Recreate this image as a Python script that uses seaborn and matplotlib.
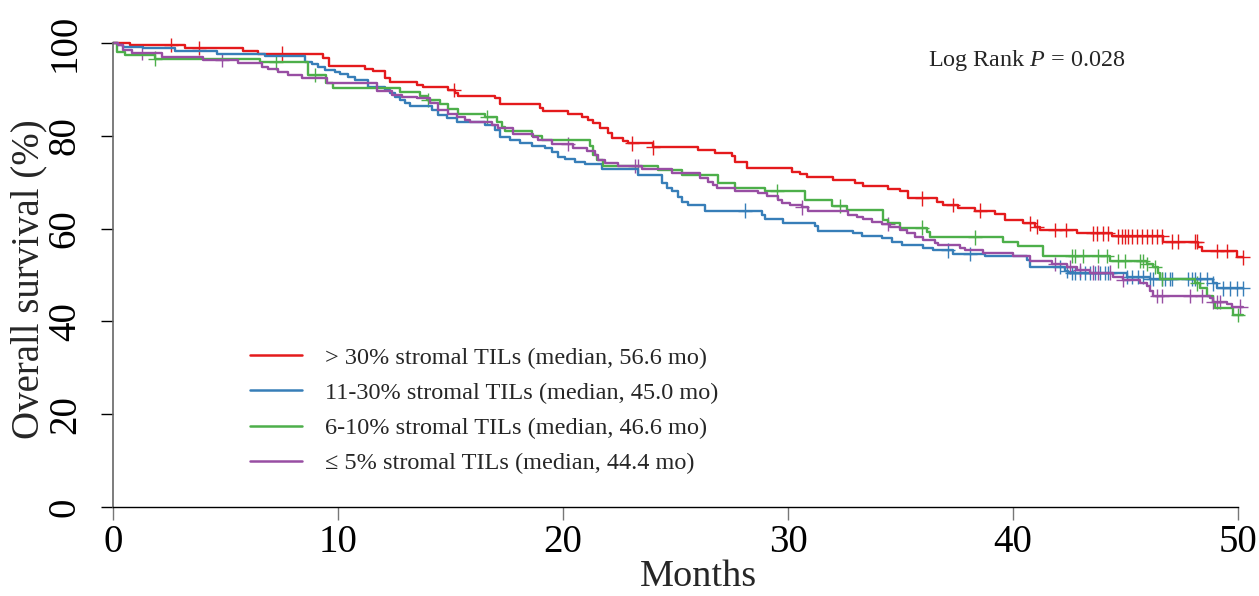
import numpy as np
import pandas as pd
import matplotlib
matplotlib.use("Agg")
import matplotlib.pyplot as plt
import seaborn as sns
from matplotlib.lines import Line2D

# ---------------- data ----------------
groups = ["> 30% stromal TILs (median, 56.6 mo)",
          "11-30% stromal TILs (median, 45.0 mo)",
          "6-10% stromal TILs (median, 46.6 mo)",
          "\u2264 5% stromal TILs (median, 44.4 mo)"]
colors = ["#E41A1C", "#377EB8", "#4DAF4A", "#984EA3"]
end_time = 50.2

red_t = [0.76, 3.2, 5.78, 6.44, 9.33, 9.6, 11.2, 11.56, 12.09, 12.31, 13.51, 13.78,
         14.89, 15.2, 15.33, 16.98, 17.2, 18.98, 19.11, 20.22, 20.84, 21.11, 21.33,
         21.64, 22.0, 22.18, 22.67, 22.89, 24.0, 26.0, 26.76, 27.51, 27.64, 28.18,
         30.18, 30.53, 30.84, 32.0, 32.98, 33.33, 34.44, 34.98, 35.33, 36.62, 36.89,
         37.56, 38.31, 39.2, 39.64, 40.44, 40.98, 41.2, 42.84, 44.4, 46.67, 48.22,
         48.4, 49.96]
red_s = [99.6, 98.9, 98.3, 97.7, 96.7, 95.1, 94.5, 93.9, 92.4, 91.6, 90.9, 90.6,
         89.9, 89.2, 88.6, 88.1, 86.8, 85.9, 85.3, 84.8, 84.1, 83.4, 82.7,
         81.6, 80.7, 79.5, 78.9, 78.4, 77.5, 76.9, 76.2, 75.6, 74.4, 73.0,
         72.3, 71.8, 71.1, 70.5, 69.8, 69.2, 68.5, 68.0, 66.5, 65.8, 65.1,
         64.4, 63.9, 63.1, 61.9, 61.1, 60.4, 59.7, 59.0, 58.3, 57.2, 56.1,
         55.2, 53.8]
red_c = [2.58, 3.82, 7.51, 15.16, 23.07, 24.0, 35.96, 37.33, 38.53, 40.76, 41.07,
         41.87, 42.36, 43.56, 43.73, 44.0, 44.22, 44.67, 44.84, 44.98, 45.11, 45.29,
         45.51, 45.73, 45.96, 46.18, 46.4, 46.62, 47.07, 47.33, 48.09, 48.18, 49.07,
         49.51, 50.2]

blue_t = [0.22, 0.44, 1.33, 2.76, 4.62, 6.76, 8.53, 8.84, 9.11, 9.42, 9.87, 10.09,
          10.44, 10.76, 11.33, 12.09, 12.31, 12.53, 12.76, 12.98, 13.2, 14.18, 14.44,
          14.84, 15.29, 16.53, 16.98, 17.2, 17.64, 18.09, 18.62, 19.2, 19.51, 19.78,
          20.09, 20.53, 20.98, 21.73, 23.33, 24.4, 24.62, 24.84, 25.11, 25.29, 25.56,
          26.31, 28.84, 28.98, 29.78, 31.2, 31.33, 32.89, 33.29, 34.18, 34.62, 35.07,
          36.0, 36.44, 37.33, 38.76, 40.62, 40.76, 42.31, 42.44, 45.07, 46.09, 48.89,
          49.07]
blue_s = [99.6, 99.2, 98.9, 98.3, 97.7, 97.3, 96.0, 95.4, 94.9, 94.2, 93.8, 93.3,
          92.7, 92.0, 90.6, 89.9, 89.2, 88.4, 87.7, 87.0, 86.4, 85.6, 84.5,
          83.8, 83.0, 82.3, 81.3, 79.8, 79.1, 78.4, 77.8, 77.3, 76.6, 75.5,
          74.9, 74.4, 73.9, 72.8, 71.6, 69.8, 68.7, 68.0, 66.9, 65.8, 65.1,
          63.9, 62.9, 62.0, 61.3, 60.6, 59.5, 59.0, 58.4, 57.9, 57.2, 56.5,
          55.8, 55.3, 54.5, 54.1, 53.2, 51.7, 50.9, 50.4, 49.6, 49.1, 48.2,
          47.1]
blue_c = [28.09, 37.11, 38.09, 42.09, 42.4, 42.62, 42.76, 42.98, 43.2, 43.42, 43.64,
          43.87, 44.09, 44.22, 45.07, 45.29, 45.56, 45.78, 46.09, 46.22, 46.62, 46.76,
          46.98, 47.07, 47.78, 47.96, 48.09, 48.31, 48.62, 48.89, 49.33, 49.64, 49.96,
          50.2]

green_t = [0.18, 0.53, 1.87, 6.53, 8.67, 9.47, 9.78, 12.76, 13.64, 13.96, 14.53, 14.89,
           15.33, 16.53, 17.07, 17.29, 17.42, 18.62, 19.07, 21.2, 21.33, 21.51, 21.78,
           24.22, 25.29, 26.89, 27.64, 28.98, 30.76, 31.96, 32.62, 34.22, 34.44, 34.98,
           36.18, 36.31, 39.56, 40.22, 41.33, 44.31, 45.96, 46.22, 46.44, 46.53, 48.09,
           48.31, 48.62, 48.89, 48.98, 49.78]
green_s = [98.1, 97.4, 96.6, 95.8, 93.1, 91.4, 90.2, 89.4, 88.6, 87.7, 86.8, 85.7,
           84.8, 84.0, 83.0, 82.0, 81.0, 80.0, 79.1, 77.7, 75.9, 74.8, 73.5,
           72.6, 71.6, 69.8, 68.7, 68.0, 66.2, 64.9, 64.0, 61.9, 61.1, 60.2,
           59.3, 58.1, 57.2, 56.2, 54.1, 53.0, 52.4, 51.7, 50.4, 49.1, 48.2,
           47.1, 45.5, 44.2, 42.8, 41.4]
green_c = [1.87, 7.24, 8.98, 14.0, 16.62, 29.51, 32.31, 35.96, 38.31, 42.62, 42.76,
           43.11, 43.78, 44.18, 44.67, 44.98, 45.64, 45.78, 45.96, 46.31, 46.62, 48.18,
           50.0]

purple_t = [0.22, 0.44, 0.84, 2.18, 4.0, 5.56, 6.62, 6.89, 7.33, 7.78, 8.4, 9.51,
            11.73, 12.4, 12.84, 13.51, 14.09, 14.44, 14.89, 15.29, 15.64, 15.87, 16.84,
            17.11, 17.78, 18.67, 18.89, 19.51, 20.44, 21.07, 21.42, 21.56, 21.87, 22.44,
            23.51, 24.84, 26.09, 26.44, 26.67, 26.84, 27.64, 28.67, 29.07, 29.56, 29.73,
            30.09, 30.62, 30.89, 32.67, 33.07, 33.33, 33.73, 34.18, 34.53, 34.98, 35.29,
            35.64, 36.0, 36.53, 36.67, 37.64, 37.87, 38.67, 40.0, 40.76, 41.73, 42.4,
            42.84, 43.42, 44.44, 44.89, 45.64, 45.96, 46.09, 46.22, 48.76, 48.89, 49.51,
            49.73]
purple_s = [99.6, 98.5, 97.8, 96.9, 96.3, 95.6, 94.9, 94.3, 93.8, 93.2, 92.5, 91.3,
            89.7, 88.9, 88.4, 88.1, 87.0, 85.6, 84.8, 84.1, 83.4, 83.0, 82.3,
            81.6, 80.4, 79.8, 79.1, 78.2, 77.3, 76.8, 75.9, 74.8, 74.1, 73.5,
            72.8, 71.9, 70.8, 70.1, 69.3, 68.7, 68.2, 67.6, 67.0, 66.2, 65.6,
            65.1, 64.6, 63.9, 62.9, 62.4, 62.0, 61.5, 61.0, 60.4, 59.7, 59.0,
            58.1, 57.5, 57.0, 56.5, 55.8, 55.3, 54.7, 54.0, 53.1, 52.4, 51.7,
            51.1, 50.5, 49.5, 48.9, 48.3, 47.6, 46.6, 45.5, 45.0, 44.2, 43.8,
            43.2]
purple_c = [1.29, 4.84, 20.22, 23.2, 23.33, 30.62, 34.44, 41.87, 42.53, 42.98, 43.56,
            43.78, 44.31, 44.89, 46.4, 46.62, 47.87, 48.4, 48.89, 49.07, 49.2, 50.1]

x_ticks = [0, 10, 20, 30, 40, 50]
y_ticks = [0, 20, 40, 60, 80, 100]
annotation = r"Log Rank $P$ = 0.028"

# ---------------- build tidy frames ----------------
series = [(red_t, red_s, red_c), (blue_t, blue_s, blue_c),
          (green_t, green_s, green_c), (purple_t, purple_s, purple_c)]
line_rows, cens_rows = [], []
for g, (t, s, c) in zip(groups, series):
    tt = np.array([0.0] + list(t) + [end_time])
    ss = np.array([100.0] + list(s) + [s[-1]])
    for a, b in zip(tt, ss):
        line_rows.append((g, a, b))
    cc = np.array(c)
    idx = np.searchsorted(tt, cc, side="right") - 1
    for a, b in zip(cc, ss[idx]):
        cens_rows.append((g, a, b))
lines_df = pd.DataFrame(line_rows, columns=["group", "month", "surv"])
cens_df = pd.DataFrame(cens_rows, columns=["group", "month", "surv"])
palette = dict(zip(groups, colors))

# ---------------- plot ----------------
sns.set_style("ticks")
plt.rcParams["font.family"] = ["Liberation Serif", "DejaVu Serif"]
plt.rcParams["mathtext.fontset"] = "custom"
plt.rcParams["mathtext.rm"] = "Liberation Serif"
plt.rcParams["mathtext.it"] = "Liberation Serif:italic"

fig = plt.figure(figsize=(12.59, 5.96), dpi=100)
ax = fig.add_axes([113 / 1259, 1 - 507 / 596, 1125 / 1259, 464 / 596])

sns.lineplot(data=lines_df, x="month", y="surv", hue="group", hue_order=groups,
             palette=palette, estimator=None, sort=False, drawstyle="steps-post",
             linewidth=1.7, legend=False, ax=ax, clip_on=False)
sns.scatterplot(data=cens_df, x="month", y="surv", hue="group", hue_order=groups,
                palette=palette, marker="+", s=110, linewidth=1.0, legend=False,
                ax=ax, clip_on=False)

ax.set_xlim(0, 50)
ax.set_ylim(0, 100)
ax.set_xticks(x_ticks)
ax.set_yticks(y_ticks)
ax.set_xticklabels([str(v) for v in x_ticks], fontsize=28)
ax.set_yticklabels([str(v) for v in y_ticks], fontsize=28, rotation=90, va="center")
ax.tick_params(axis="y", length=9, width=1.0, pad=12, colors="black")
ax.tick_params(axis="x", length=9, width=1.0, pad=3, color="#777777", labelcolor="black")
for side in ["top", "right"]:
    ax.spines[side].set_visible(False)
ax.spines["left"].set_color("#666666")
ax.spines["left"].set_linewidth(1.2)
ax.spines["bottom"].set_color("black")
ax.spines["bottom"].set_linewidth(1.0)

ax.set_xlabel("Months", fontsize=27.5)
ax.xaxis.set_label_coords(0.52, -0.113)
ax.set_ylabel("Overall survival (%)", fontsize=28)
ax.yaxis.set_label_coords(-0.0585, 0.491)

ax.text(40.6, 96.2, annotation, fontsize=17.4, ha="center", va="center")

handles = [Line2D([0], [0], color=c, lw=1.8) for c in colors]
ax.legend(handles, groups, loc="center left", bbox_to_anchor=(0.1218, 0.208),
          frameon=False, fontsize=17.5, handlelength=2.15, handletextpad=0.95,
          labelspacing=0.54, borderpad=0, borderaxespad=0)

fig.savefig("out.png", dpi=100)
